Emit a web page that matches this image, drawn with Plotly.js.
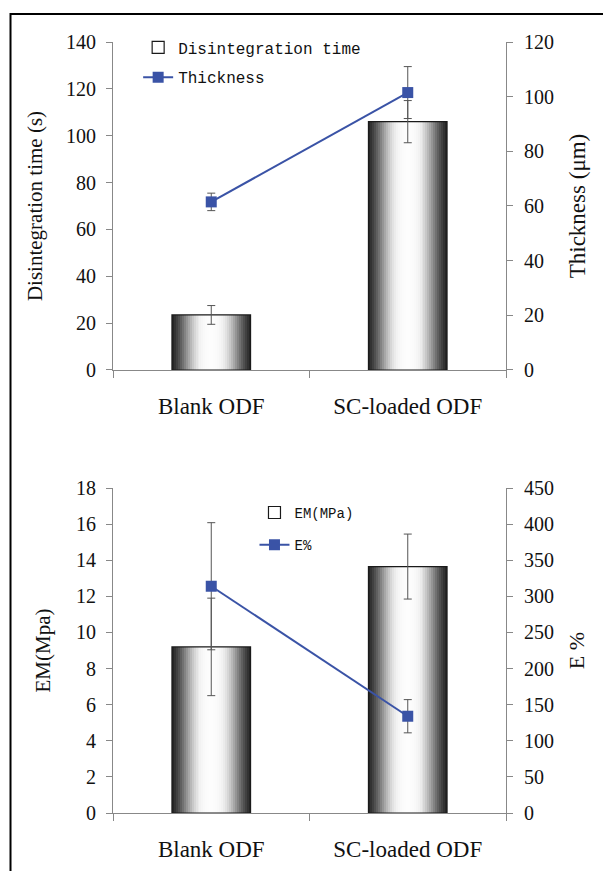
<!DOCTYPE html>
<html>
<head>
<meta charset="utf-8">
<script src="https://cdn.plot.ly/plotly-3.0.1.min.js"></script>
<style>html,body{margin:0;padding:0;background:#fff;}#chart{width:603px;height:871px;}</style>
</head>
<body>
<div id="chart"></div>
<script>
// ---- data ----
const categories = ['Blank ODF', 'SC-loaded ODF'];
const disintegrationTime = [23.5, 106];
const disintegrationErr = [4, 9];
const thickness = [61.5, 101.5];
const thicknessErr = [3.2, 9.5];
const emMPa = [9.2, 13.65];
const emErr = [2.7, 1.8];
const elongation = [314, 134];
const elongationErr = [88, 23];

// ---- styles ----
const shadeColors = ['#262626','#333333','#414141','#505050','#606060','#717171','#838383','#959595','#a7a7a7','#b8b8b8',
                     '#c8c8c8','#d6d6d6','#e2e2e2','#ebebeb','#f2f2f2','#f6f6f6','#f9f9f9','#fbfbfb','#fcfcfc','#fdfdfd'];
const barWidth = 0.4;
const blue = '#3a53a6';
const serif = 'Liberation Serif, Times New Roman, serif';
const mono = 'Liberation Mono, Courier New, monospace';

const traces = [];
function shadedBars(y, err, xa, ya, name, legendName) {
  const n = shadeColors.length;
  shadeColors.forEach((c, i) => {
    traces.push({
      type: 'bar', x: categories, y: y, xaxis: xa, yaxis: ya,
      width: barWidth * (1 - i / n),
      marker: {color: c, line: {width: 0}},
      showlegend: false, hoverinfo: 'skip'
    });
  });
  traces.push({
    type: 'bar', x: categories, y: y, xaxis: xa, yaxis: ya, name: name,
    width: barWidth,
    marker: {color: 'rgba(0,0,0,0)', line: {color: '#1a1a1a', width: 1.2}},
    error_y: {type: 'data', array: err, visible: true, color: '#555', thickness: 1, width: 4},
    showlegend: true, legend: legendName, legendgroup: name
  });
}
function lineTrace(y, err, xa, ya, name, legendName) {
  traces.push({
    type: 'scatter', mode: 'lines+markers', x: categories, y: y, xaxis: xa, yaxis: ya, name: name,
    line: {color: blue, width: 2},
    marker: {symbol: 'square', size: 11, color: blue},
    error_y: {type: 'data', array: err, visible: true, color: '#555', thickness: 1, width: 4},
    legend: legendName, legendgroup: name
  });
}
shadedBars(disintegrationTime, disintegrationErr, 'x', 'y', 'Disintegration time', 'legend');
lineTrace(thickness, thicknessErr, 'x', 'y2', 'Thickness', 'legend');
shadedBars(emMPa, emErr, 'x2', 'y3', 'EM(MPa)', 'legend2');
lineTrace(elongation, elongationErr, 'x2', 'y4', 'E%', 'legend2');

const axisCommon = {
  showgrid: false, zeroline: false, showline: true, linecolor: '#888', linewidth: 1,
  ticks: 'outside', ticklen: 6, tickcolor: '#888', tickwidth: 1,
  tickfont: {family: serif, size: 20, color: '#111'}
};
const leftY = Object.assign({}, axisCommon, {ticklabelstandoff: 6});
const rightY = Object.assign({}, axisCommon, {ticklabelstandoff: 7});
const xCommon = Object.assign({}, axisCommon, {
  type: 'category', tickson: 'boundaries', ticklen: 7, ticklabelstandoff: 15,
  tickfont: {family: serif, size: 23, color: '#111'}, range: [-0.5, 1.5]
});

const layout = {
  width: 603, height: 871,
  margin: {l: 113, r: 97, t: 42, b: 58},
  paper_bgcolor: '#fff', plot_bgcolor: 'rgba(0,0,0,0)',
  barmode: 'overlay', bargap: 0,
  showlegend: true,
  xaxis: Object.assign({}, xCommon, {anchor: 'y', domain: [0, 1]}),
  yaxis: Object.assign({}, leftY, {domain: [0.5746, 1], range: [0, 140], dtick: 20, anchor: 'x',
    title: {text: 'Disintegration time (s)', font: {family: serif, size: 21, color: '#111'}, standoff: 17}}),
  yaxis2: Object.assign({}, rightY, {overlaying: 'y', side: 'right', anchor: 'x', range: [0, 120], dtick: 20,
    title: {text: 'Thickness (μm)', font: {family: serif, size: 23, color: '#111'}, standoff: 15}}),
  xaxis2: Object.assign({}, xCommon, {anchor: 'y3', domain: [0, 1]}),
  yaxis3: Object.assign({}, leftY, {domain: [0, 0.4215], range: [0, 18], dtick: 2, anchor: 'x2',
    title: {text: 'EM(Mpa)', font: {family: serif, size: 21, color: '#111'}, standoff: 19}}),
  yaxis4: Object.assign({}, rightY, {overlaying: 'y3', side: 'right', anchor: 'x2', range: [0, 450], dtick: 50,
    title: {text: 'E %', font: {family: serif, size: 22, color: '#111'}, standoff: 15}}),
  legend: {x: 0.064, y: 1.015, xanchor: 'left', yanchor: 'top', bgcolor: 'rgba(0,0,0,0)',
    font: {family: mono, size: 16, color: '#111'}, traceorder: 'grouped', tracegroupgap: 6, itemwidth: 30},
  legend2: {x: 0.36, y: 0.41, xanchor: 'left', yanchor: 'top', bgcolor: 'rgba(0,0,0,0)',
    font: {family: mono, size: 14, color: '#111'}, traceorder: 'grouped', tracegroupgap: 11, itemwidth: 30},
  shapes: [
    {type: 'path', xref: 'paper', yref: 'paper', path: 'M -0.2608,-0.0752 L -0.2608,1.0363 L 1.25,1.0363',
     line: {color: '#000', width: 2}}
  ]
};

Plotly.newPlot('chart', traces, layout, {staticPlot: true, displayModeBar: false});
</script>
</body>
</html>
